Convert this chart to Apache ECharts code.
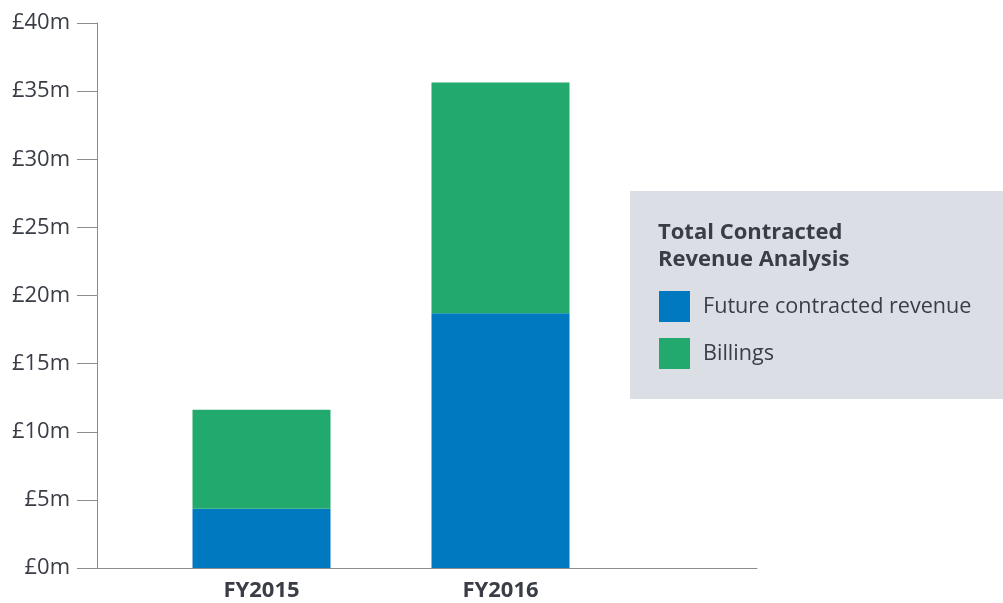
<!DOCTYPE html>
<html>
<head>
<meta charset="utf-8">
<script src="https://cdn.jsdelivr.net/npm/echarts@6/dist/echarts.min.js"></script>
<style>
  html, body { margin: 0; padding: 0; background: #fff; }
  #main { width: 1003px; height: 603px; }
</style>
</head>
<body>
<div id="main"></div>
<script>
// 数据
var categories = ['FY2015', 'FY2016'];
var futureRevenue = [4.35, 18.7];   // 蓝色
var billings = [7.27, 16.93];       // 绿色
var yTicks = { min: 0, max: 40, interval: 5 };

var textColor = '#3a3d45';
var axisColor = '#8a8c92';
var font = '"Open Sans", "Noto Sans", sans-serif';

var myChart = echarts.init(document.getElementById('main'));

var option = {
    backgroundColor: '#fff',
    textStyle: { fontFamily: font },
    title: {
        text: 'Total Contracted\nRevenue Analysis',
        left: 653,
        top: 214,
        textStyle: {
            fontFamily: font,
            fontSize: 22,
            fontWeight: 'bold',
            lineHeight: 27,
            color: textColor
        }
    },
    legend: {
        orient: 'vertical',
        left: 659,
        top: 291,
        padding: 0,
        itemWidth: 31,
        itemHeight: 31,
        itemGap: 16,
        icon: 'rect',
        selectedMode: false,
        data: ['Future contracted revenue', 'Billings'],
        textStyle: {
            fontFamily: font,
            fontSize: 21.6,
            color: textColor,
            padding: [0, 0, 0, 8]
        }
    },
    graphic: [{
        type: 'rect',
        z: -1,
        shape: { x: 630, y: 191, width: 373, height: 208 },
        style: { fill: '#dcdee5' }
    }],
    grid: [
        { left: 97, right: 246, top: 23, bottom: 35 },
        { left: 142, width: 478, top: 23, bottom: 35 }
    ],
    xAxis: [{
        type: 'category',
        gridIndex: 0,
        data: categories,
        axisLine: { lineStyle: { color: axisColor, width: 1 } },
        axisTick: { show: false },
        axisLabel: { show: false }
    }, {
        type: 'category',
        gridIndex: 1,
        data: categories,
        axisLine: { show: false },
        axisTick: { show: false },
        axisLabel: {
            margin: 12,
            fontFamily: font,
            fontSize: 22,
            fontWeight: 'bold',
            color: textColor
        }
    }],
    yAxis: [{
        type: 'value',
        gridIndex: 0,
        min: yTicks.min,
        max: yTicks.max,
        interval: yTicks.interval,
        axisLine: { show: true, lineStyle: { color: axisColor, width: 1 } },
        axisTick: { show: true, length: 20, lineStyle: { color: axisColor } },
        splitLine: { show: false },
        axisLabel: {
            margin: 27,
            fontFamily: font,
            fontSize: 22,
            color: textColor,
            formatter: function (v) { return '£' + v + 'm'; }
        }
    }, {
        type: 'value',
        gridIndex: 1,
        min: yTicks.min,
        max: yTicks.max,
        interval: yTicks.interval,
        show: false
    }],
    series: [{
        name: 'Future contracted revenue',
        type: 'bar',
        stack: 'total',
        xAxisIndex: 1,
        yAxisIndex: 1,
        barWidth: 138,
        itemStyle: { color: '#0079c1' },
        data: futureRevenue
    }, {
        name: 'Billings',
        type: 'bar',
        stack: 'total',
        xAxisIndex: 1,
        yAxisIndex: 1,
        barWidth: 138,
        itemStyle: { color: '#22aa6e' },
        data: billings
    }]
};

myChart.setOption(option);
</script>
</body>
</html>
